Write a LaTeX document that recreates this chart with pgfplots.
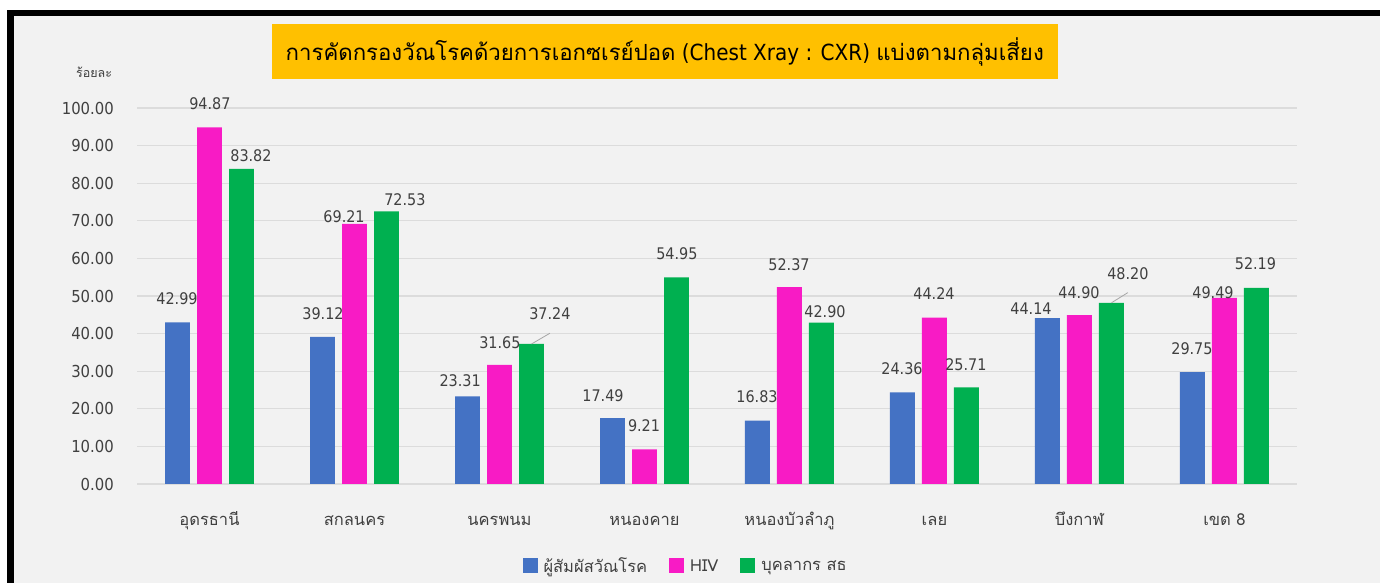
\documentclass[border=0pt]{standalone}
\usepackage{fontspec}
\usepackage{pgfplots}
\pgfplotsset{compat=1.18}
\setmainfont{DejaVu Sans}[FakeStretch=0.9]
\newfontfamily\thai[Script=Thai]{Loma}
\definecolor{bgc}{HTML}{F2F2F2}
\definecolor{gridc}{HTML}{DCDCDC}
\definecolor{cblue}{HTML}{4472C4}
\definecolor{cpink}{HTML}{F81BC5}
\definecolor{cgreen}{HTML}{00B050}
\definecolor{ctitle}{HTML}{FFC000}
\definecolor{txt}{HTML}{404040}
\pgfplotsset{sqlegend/.style={legend image code/.code={\fill[##1,draw=none] (0pt,-7.5pt) rectangle (15pt,7.5pt);}}}
\begin{document}
\begin{tikzpicture}[x=1pt,y=1pt]
\useasboundingbox (0,0) rectangle (1380,583);
\fill[white] (0,0) rectangle (1380,583);
\fill[bgc] (14,0) rectangle (1380,567);
\fill[black] (7,0) rectangle (14,573);
\fill[black] (7,567) rectangle (1380,573);
\begin{axis}[
  at={(137pt,99pt)}, anchor=south west,
  scale only axis, width=1160pt, height=376pt,
  xmin=-0.5, xmax=7.5, ymin=0, ymax=100,
  clip=false,
  axis line style={draw=none},
  major tick length=0pt,
  ytick={0,10,...,100},
  ymajorgrids, grid style={gridc, line width=1.2pt},
  xtick={0,...,7},
  xticklabels={อุดรธานี,สกลนคร,นครพนม,หนองคาย,หนองบัวลำภู,เลย,บึงกาฬ,เขต 8},
  xticklabel style={font=\thai\fontsize{16.5}{20}\selectfont, text=txt, anchor=base, yshift=-41pt},
  /pgf/number format/assume math mode=true,
  yticklabel style={font=\fontsize{16.5}{20}\selectfont, text=txt, inner sep=0pt, xshift=-23pt,
    /pgf/number format/fixed, /pgf/number format/fixed zerofill, /pgf/number format/precision=2},
  legend style={at={(0.473,-0.218)}, anchor=center, draw=none, fill=none, legend columns=3,
    font=\thai\fontsize{16.5}{20}\selectfont, text=txt,
    /tikz/every odd column/.append style={column sep=4pt},
    /tikz/every even column/.append style={column sep=20pt}},
  legend cell align=left,
]
\addplot[ybar, sqlegend, bar width=0.172, bar shift=-0.2207, fill=cblue, draw=none]
  coordinates {(0,42.99) (1,39.12) (2,23.31) (3,17.49) (4,16.83) (5,24.36) (6,44.14) (7,29.75)};
\addlegendentry{ผู้สัมผัสวัณโรค}
\addplot[ybar, sqlegend, bar width=0.172, bar shift=0, fill=cpink, draw=none]
  coordinates {(0,94.87) (1,69.21) (2,31.65) (3,9.21) (4,52.37) (5,44.24) (6,44.90) (7,49.49)};
\addlegendentry{HIV}
\addplot[ybar, sqlegend, bar width=0.172, bar shift=0.2207, fill=cgreen, draw=none]
  coordinates {(0,83.82) (1,72.53) (2,37.24) (3,54.95) (4,42.90) (5,25.71) (6,48.20) (7,52.19)};
\addlegendentry{บุคลากร สธ}
\addplot[forget plot, color=black!35, line width=0.8pt, mark=none] coordinates {(2.221,37.24) (2.348,40.1)};
\addplot[forget plot, color=black!35, line width=0.8pt, mark=none] coordinates {(6.221,48.20) (6.334,50.9)};
\addplot[forget plot, draw=none, mark=none, nodes near coords, point meta=explicit symbolic,
  every node near coord/.style={anchor=center, font=\fontsize{16}{19}\selectfont, text=txt, inner sep=0pt}]
  table[meta=lab] {
x y lab
-0.224 49.3 42.99
0.003 101.1 94.87
0.286 87.3 83.82
0.783 45.4 39.12
0.928 71.1 69.21
1.348 75.6 72.53
1.729 27.6 23.31
2.003 37.7 31.65
2.348 45.4 37.24
2.714 23.6 17.49
2.997 15.6 9.21
3.224 61.3 54.95
3.776 23.1 16.83
3.997 58.4 52.37
4.245 45.9 42.90
4.776 30.8 24.36
4.997 50.7 44.24
5.217 31.8 25.71
5.666 46.7 44.14
5.997 50.9 44.90
6.334 56.0 48.20
6.776 36.1 29.75
6.921 50.9 49.49
7.214 58.6 52.19
};
\node[font=\thai\fontsize{12.5}{15}\selectfont, text=txt] at (rel axis cs:-0.037,1.096) {ร้อยละ};
\node[fill=ctitle, minimum width=786pt, minimum height=55pt, inner sep=0pt, font=\fontsize{22.2}{27}\selectfont, text=black]
  at (rel axis cs:0.455,1.150) {{\thai การคัดกรองวัณโรคด้วยการเอกซเรย์ปอด} (Chest Xray : CXR) {\thai แบ่งตามกลุ่มเสี่ยง}};
\end{axis}
\end{tikzpicture}
\end{document}
